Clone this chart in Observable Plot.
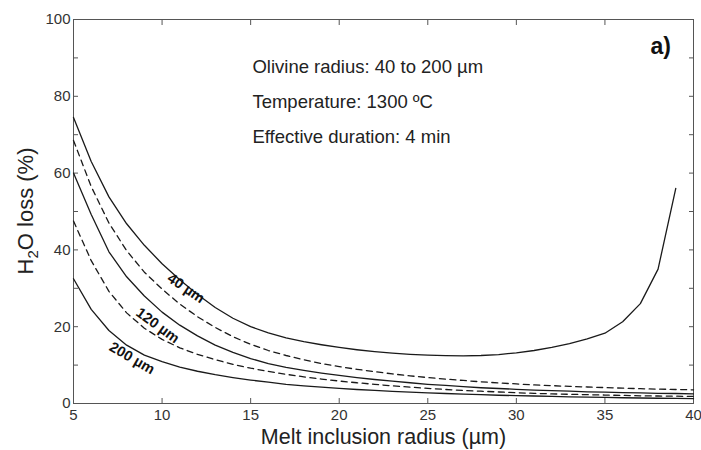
<!DOCTYPE html>
<html>
<head>
<meta charset="utf-8">
<script src="https://cdn.jsdelivr.net/npm/d3@7"></script>
<script src="https://cdn.jsdelivr.net/npm/@observablehq/plot@0.6"></script>
<style>
  body { margin: 0; background: #fff; }
  #chart svg { font-family: Arial, "Liberation Sans", sans-serif; }
</style>
</head>
<body>
<div id="chart"></div>
<script>
// Melt inclusion radius (µm)
const radius = [5,6,7,8,9,10,11,12,13,14,15,16,17,18,19,20,21,22,23,24,25,26,27,28,29,30,31,32,33,34,35,36,37,38,39,40];
// H2O loss (%) for each olivine radius
const loss40  = [74.5,63,53.8,46.8,41.2,36.4,32.2,28.4,25.0,22.2,20.0,18.4,17.1,16.1,15.3,14.6,14.0,13.5,13.1,12.8,12.6,12.45,12.4,12.5,12.75,13.2,13.8,14.6,15.6,16.8,18.3,21.3,26,35,56];
const loss80  = [68.5,56.5,47,39.8,34.2,29.8,25.9,22.6,19.8,17.4,15.4,13.8,12.5,11.4,10.4,9.6,8.9,8.3,7.7,7.2,6.75,6.35,6.0,5.65,5.35,5.1,4.85,4.65,4.45,4.3,4.15,4.0,3.85,3.75,3.65,3.55];
const loss120 = [60,49.2,39.5,33,28,23.8,20.4,17.6,15.2,13.3,11.7,10.4,9.4,8.6,7.9,7.3,6.75,6.25,5.8,5.4,5.0,4.7,4.4,4.1,3.9,3.7,3.5,3.35,3.2,3.05,2.95,2.85,2.75,2.65,2.6,2.5];
const loss160 = [47.5,37.2,29.2,23.6,19.6,16.7,14.5,12.8,11.4,10.2,9.2,8.35,7.6,6.95,6.35,5.85,5.4,5.0,4.6,4.25,3.95,3.65,3.4,3.2,3.0,2.8,2.65,2.5,2.4,2.3,2.2,2.1,2.0,1.95,1.9,1.85];
const loss200 = [32.5,24.5,19,15.2,12.6,10.9,9.5,8.4,7.5,6.75,6.1,5.55,5.0,4.6,4.25,3.95,3.65,3.4,3.15,2.95,2.75,2.6,2.45,2.3,2.15,2.05,1.95,1.85,1.75,1.65,1.58,1.5,1.43,1.37,1.31,1.25];

const series = [
  {name: "40 µm",  values: loss40,  dashed: false},
  {name: "80 µm",  values: loss80,  dashed: true},
  {name: "120 µm", values: loss120, dashed: false},
  {name: "160 µm", values: loss160, dashed: true},
  {name: "200 µm", values: loss200, dashed: false}
];

const xTicks = [5,10,15,20,25,30,35,40];
const yTicks = [0,10,20,30,40,50,60,70,80,90,100];

const curveLabels = [
  {text: "40 µm",  x: 11.35, y: 30.0, angle: 34},
  {text: "120 µm", x: 9.75,  y: 20.3, angle: 36},
  {text: "200 µm", x: 8.3,   y: 11.8, angle: 30}
];
const notes = [
  {text: "Olivine radius: 40 to 200 µm", x: 15.1, y: 87.5},
  {text: "Temperature: 1300 ºC",          x: 15.1, y: 78.4},
  {text: "Effective duration: 4 min",     x: 15.1, y: 69.3}
];
const panel = [{text: "a)", x: 38.15, y: 93}];

const rows = series.flatMap(s => s.values.map((v, i) => ({name: s.name, r: radius[i], v, dashed: s.dashed})));

const fmtY = d => (d % 20 === 0 ? d : "");
const blank = () => "";

const chart = Plot.plot({
  width: 701,
  height: 450,
  marginLeft: 73,
  marginRight: 8,
  marginTop: 19,
  marginBottom: 47,
  style: {fontSize: "15px", color: "#333", background: "#fff"},
  x: {domain: [5, 40], label: null},
  y: {domain: [0, 100], label: null},
  marks: [
    Plot.frame({stroke: "#555"}),
    Plot.axisX({anchor: "bottom", ticks: xTicks, tickSize: -5, tickPadding: 11, stroke: "#555", fontSize: 15, label: null}),
    Plot.axisX({anchor: "top", ticks: xTicks, tickSize: -5, tickFormat: blank, stroke: "#555", label: null}),
    Plot.axisY({anchor: "left", ticks: yTicks, tickSize: -5, tickPadding: 8, tickFormat: fmtY, stroke: "#555", fontSize: 15, label: null}),
    Plot.axisY({anchor: "right", ticks: yTicks, tickSize: -5, tickFormat: blank, stroke: "#555", label: null}),
    Plot.line(rows.filter(d => !d.dashed), {x: "r", y: "v", z: "name", stroke: "#1a1a1a", strokeWidth: 1.3}),
    Plot.line(rows.filter(d => d.dashed), {x: "r", y: "v", z: "name", stroke: "#1a1a1a", strokeWidth: 1.3, strokeDasharray: "6,4.5"}),
    Plot.text(curveLabels, {x: "x", y: "y", text: "text", rotate: "angle", fontWeight: "bold", fontSize: 14.5, fill: "#111"}),
    Plot.text(notes, {x: "x", y: "y", text: "text", textAnchor: "start", fontSize: 18.5, fill: "#222"}),
    Plot.text(panel, {x: "x", y: "y", text: "text", fontWeight: "bold", fontSize: 23, fill: "#111"})
  ]
});

document.getElementById("chart").appendChild(chart);

// axis titles
const svg = d3.select(chart);
svg.append("text")
  .attr("x", 383.5).attr("y", 444)
  .attr("text-anchor", "middle")
  .attr("font-size", 21.5)
  .attr("fill", "#222")
  .text("Melt inclusion radius (µm)");
const yt = svg.append("text")
  .attr("transform", "translate(33,211) rotate(-90)")
  .attr("text-anchor", "middle")
  .attr("font-size", 22)
  .attr("fill", "#222");
yt.append("tspan").text("H");
yt.append("tspan").attr("font-size", 15).attr("dy", 5).text("2");
yt.append("tspan").attr("dy", -5).text("O loss (%)");
</script>
</body>
</html>
